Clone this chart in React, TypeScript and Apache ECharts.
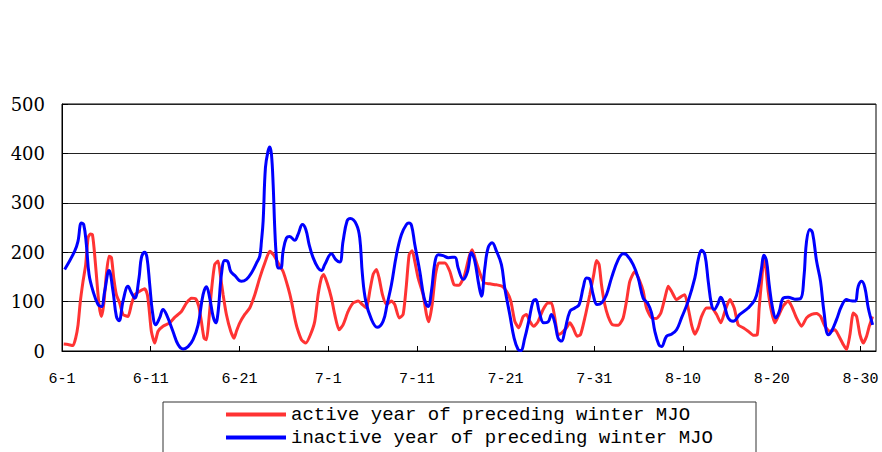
import React, { useEffect, useRef } from 'react';
import * as echarts from 'echarts';

const tickLabels = ['6-1', '6-11', '6-21', '7-1', '7-11', '7-21', '7-31', '8-10', '8-20', '8-30'];
const seriesNames = ['active year of preceding winter MJO', 'inactive year of preceding winter MJO'];

const activeDays = [
  0.19, 0.68, 1.24, 1.54, 1.81, 2.07, 2.37, 2.67, 2.94, 3.2, 3.42, 3.61, 3.87, 4.17, 4.44, 4.7, 5.0, 5.3, 5.57, 5.83,
  6.13, 6.5, 6.88, 7.44, 7.82, 8.2, 8.76, 9.32, 9.62, 9.81, 10.07, 10.45, 10.83, 11.39, 12.14, 12.7, 13.46, 14.02, 14.59, 15.04,
  15.41, 15.71, 16.01, 16.28, 16.54, 16.84, 17.21, 17.59, 17.89, 18.16, 18.53, 19.02, 19.4, 19.66, 20.04, 20.6, 21.16, 21.73, 22.29, 22.86,
  23.42, 23.87, 24.36, 24.92, 25.49, 25.86, 26.23, 26.5, 26.99, 27.48, 28.0, 28.49, 28.87, 29.24, 29.5, 29.88, 30.37, 30.74, 31.23, 31.68,
  32.25, 32.81, 33.38, 33.86, 34.32, 34.69, 35.07, 35.44, 35.74, 36.12, 36.57, 37.13, 37.51, 38.0, 38.45, 38.82, 39.13, 39.47, 39.76, 40.14,
  40.7, 41.08, 41.34, 41.72, 42.1, 42.47, 43.15, 43.72, 44.2, 44.73, 45.33, 45.86, 46.23, 46.61, 47.1, 47.58, 48.22, 48.97, 49.61, 50.1,
  50.59, 51.04, 51.49, 51.98, 52.35, 52.73, 53.18, 53.67, 54.23, 54.79, 55.17, 55.55, 55.92, 56.3, 56.86, 57.24, 57.61, 58.06, 58.44, 58.93,
  59.49, 59.94, 60.24, 60.54, 60.81, 61.18, 61.56, 62.05, 62.69, 63.25, 63.63, 64.0, 64.57, 65.13, 65.51, 65.88, 66.45, 67.01, 67.5, 67.95,
  68.33, 68.7, 69.27, 69.83, 70.2, 70.58, 70.96, 71.33, 71.71, 72.09, 72.65, 73.21, 73.78, 74.26, 74.71, 75.28, 75.77, 76.22, 76.78, 77.34,
  77.91, 78.36, 78.58, 78.85, 79.11, 79.34, 79.6, 79.97, 80.35, 80.72, 81.29, 81.85, 82.23, 82.79, 83.36, 83.92, 84.49, 85.05, 85.5, 85.99,
  86.55, 87.12, 87.49, 88.06, 88.44, 88.81, 89.19, 89.56, 89.94, 90.31, 90.69, 90.99, 91.36
];
const activeValues = [
  14, 13, 11, 26, 53, 101, 141, 175, 229, 237, 236, 209, 155, 94, 70, 94, 155, 192, 189, 148,
  114, 97, 74, 70, 94, 114, 121, 126, 114, 87, 40, 16, 40, 50, 57, 68, 80, 97, 107, 106,
  91, 60, 26, 23, 60, 121, 175, 182, 148, 114, 74, 40, 26, 40, 57, 74, 87, 114, 148, 178,
  202, 194, 178, 161, 128, 101, 67, 47, 23, 16, 33, 60, 114, 148, 155, 138, 107, 74, 43, 53,
  80, 97, 101, 94, 87, 121, 155, 165, 148, 114, 94, 101, 94, 67, 74, 134, 195, 203, 182, 148,
  114, 74, 59, 94, 155, 178, 178, 161, 134, 133, 151, 189, 205, 185, 158, 138, 136, 134, 131, 121,
  101, 60, 47, 70, 74, 60, 50, 60, 84, 97, 97, 67, 33, 36, 47, 57, 47, 30, 33, 67,
  114, 155, 183, 175, 134, 94, 70, 53, 52, 67, 101, 141, 161, 141, 121, 87, 67, 66, 77, 107,
  131, 121, 104, 111, 114, 87, 53, 34, 47, 70, 87, 87, 74, 57, 80, 104, 87, 53, 47, 40,
  32, 33, 87, 141, 185, 168, 121, 80, 57, 70, 91, 101, 91, 67, 50, 67, 74, 76, 70, 50,
  40, 43, 33, 13, 3, 33, 77, 70, 33, 16, 30, 50, 70
];

const inactiveDays = [
  0.3, 1.43, 1.8, 2.18, 2.45, 2.75, 3.05, 3.5, 4.06, 4.44, 4.81, 5.3, 5.75, 6.13, 6.43, 6.88, 7.44, 7.82, 8.2, 8.68,
  8.95, 9.32, 9.58, 9.89, 10.19, 10.56, 11.0, 11.39, 11.77, 12.5, 13.08, 13.65, 14.21, 14.77, 15.34, 15.9, 16.28, 16.65, 17.03, 17.33,
  17.6, 17.97, 18.34, 18.65, 19.02, 19.47, 20.22, 20.79, 21.35, 21.92, 22.29, 22.48, 22.67, 22.93, 23.23, 23.42, 23.61, 23.8, 23.98, 24.17,
  24.36, 24.66, 24.92, 25.3, 25.67, 26.23, 26.61, 27.1, 27.48, 27.85, 28.3, 28.87, 29.24, 29.62, 30.37, 30.86, 31.31, 31.68, 32.13, 32.51,
  33.19, 33.56, 33.86, 34.24, 34.88, 35.52, 36.19, 36.64, 37.13, 37.7, 38.26, 38.82, 39.1, 39.4, 39.76, 40.33, 40.82, 41.27, 41.64, 42.02,
  42.4, 42.96, 43.53, 44.28, 44.65, 45.22, 45.71, 46.15, 46.53, 46.98, 47.28, 47.66, 48.03, 48.48, 48.97, 49.53, 49.9, 50.47, 50.96, 51.41,
  51.7, 52.16, 52.65, 53.1, 53.4, 53.78, 54.3, 54.79, 55.17, 55.55, 55.92, 56.3, 56.67, 57.24, 57.8, 58.29, 58.74, 59.12, 59.49, 59.87,
  60.32, 60.81, 61.37, 61.94, 62.69, 63.25, 63.63, 64.38, 64.94, 65.51, 66.0, 66.45, 66.82, 67.27, 67.57, 68.14, 68.7, 69.27, 69.83, 70.58,
  71.33, 71.71, 72.09, 72.46, 72.84, 73.21, 73.51, 73.89, 74.26, 74.64, 75.09, 75.65, 76.4, 77.34, 78.1, 78.47, 78.85, 79.11, 79.41, 79.71,
  80.09, 80.46, 80.84, 81.29, 81.85, 82.6, 83.24, 83.62, 83.92, 84.3, 84.6, 85.05, 85.5, 85.88, 86.37, 86.74, 87.31, 87.87, 88.44, 88.81,
  89.38, 89.75, 90.13, 90.5, 90.88, 91.37
];
const inactiveValues = [
  165, 202, 222, 259, 256, 215, 155, 121, 94, 90, 121, 163, 121, 70, 61, 101, 131, 118, 107, 148,
  189, 200, 189, 134, 80, 53, 67, 84, 74, 40, 13, 4, 9, 23, 53, 114, 130, 107, 70, 57,
  80, 155, 183, 182, 161, 153, 141, 145, 158, 178, 192, 222, 263, 371, 405, 413, 398, 337, 249, 189,
  168, 168, 202, 229, 232, 224, 236, 256, 246, 216, 189, 168, 163, 175, 197, 185, 180, 222, 263, 268,
  256, 229, 155, 101, 64, 48, 60, 94, 134, 195, 236, 256, 259, 254, 216, 161, 107, 90, 121, 178,
  195, 193, 189, 190, 168, 145, 161, 199, 182, 134, 111, 168, 209, 219, 202, 175, 128, 74, 26, 3,
  1, 26, 64, 101, 104, 80, 57, 59, 74, 57, 26, 20, 40, 80, 87, 94, 128, 148, 145, 114,
  94, 97, 114, 148, 185, 197, 195, 175, 148, 107, 97, 77, 40, 13, 9, 30, 34, 43, 67, 101,
  148, 185, 204, 195, 141, 94, 84, 94, 109, 94, 67, 60, 74, 87, 104, 128, 168, 194, 182, 134,
  87, 67, 80, 107, 109, 105, 106, 148, 222, 246, 239, 182, 141, 80, 33, 40, 64, 91, 104, 102,
  101, 131, 141, 128, 87, 53
];

const zip = (xs: number[], ys: number[]) => xs.map((x, i) => [x, ys[i]]);

const SERIF = 'DejaVu Serif';
const MONO = 'Liberation Mono';

export default function App() {
  const ref = useRef<HTMLDivElement>(null);
  useEffect(() => {
    const chart = echarts.init(ref.current!, null, { renderer: 'svg' });
    chart.setOption({
      animation: false,
      backgroundColor: '#fff',
      grid: { left: 62, right: 6, top: 104, bottom: 101, show: true, borderColor: '#000', borderWidth: 1, backgroundColor: 'transparent' },
      xAxis: {
        type: 'value',
        min: 0,
        max: 91.75,
        interval: 10,
        axisLine: { show: true, lineStyle: { color: '#000', width: 1 } },
        axisTick: { show: true, inside: true, length: 5, lineStyle: { color: '#000' } },
        splitLine: { show: false },
        axisLabel: {
          showMaxLabel: false,
          margin: 21,
          color: '#000',
          fontFamily: MONO,
          fontSize: 15,
          formatter: (v: number) => (Math.abs(v % 10) < 1e-6 ? tickLabels[Math.round(v / 10)] ?? '' : ''),
        },
      },
      yAxis: {
        type: 'value',
        min: 0,
        max: 500,
        interval: 100,
        axisLine: { show: true, lineStyle: { color: '#000', width: 1 } },
        axisTick: { show: true, inside: true, length: 6, lineStyle: { color: '#000' } },
        splitLine: { show: true, lineStyle: { color: '#222', width: 1 } },
        axisLabel: { margin: 17, color: '#000', fontFamily: SERIF, fontSize: 18, padding: [5, 0, 0, 0] },
      },
      legend: {
        orient: 'vertical',
        left: 226,
        top: 405,
        padding: 0,
        itemWidth: 60,
        itemHeight: 4,
        itemGap: 4,
        icon: 'rect',
        textStyle: { fontFamily: MONO, fontSize: 19, lineHeight: 19, color: '#000' },
        data: seriesNames,
      },
      graphic: [
        {
          type: 'rect',
          silent: true,
          shape: { x: 163, y: 402, width: 593, height: 80 },
          style: { fill: 'none', stroke: '#333', lineWidth: 1 },
        },
      ],
      series: [
        {
          name: seriesNames[0],
          type: 'line',
          showSymbol: false,
          symbol: 'none',
          smooth: 0.2,
          itemStyle: { color: '#ff3333' },
          lineStyle: { color: '#ff3333', width: 3 },
          data: zip(activeDays, activeValues),
        },
        {
          name: seriesNames[1],
          type: 'line',
          showSymbol: false,
          symbol: 'none',
          smooth: 0.4,
          itemStyle: { color: '#0000ff' },
          lineStyle: { color: '#0000ff', width: 3 },
          data: zip(inactiveDays, inactiveValues),
        },
      ],
    });
    return () => chart.dispose();
  }, []);
  return <div ref={ref} style={{ position: 'fixed', left: 0, top: 0, width: 882, height: 452 }} />;
}
